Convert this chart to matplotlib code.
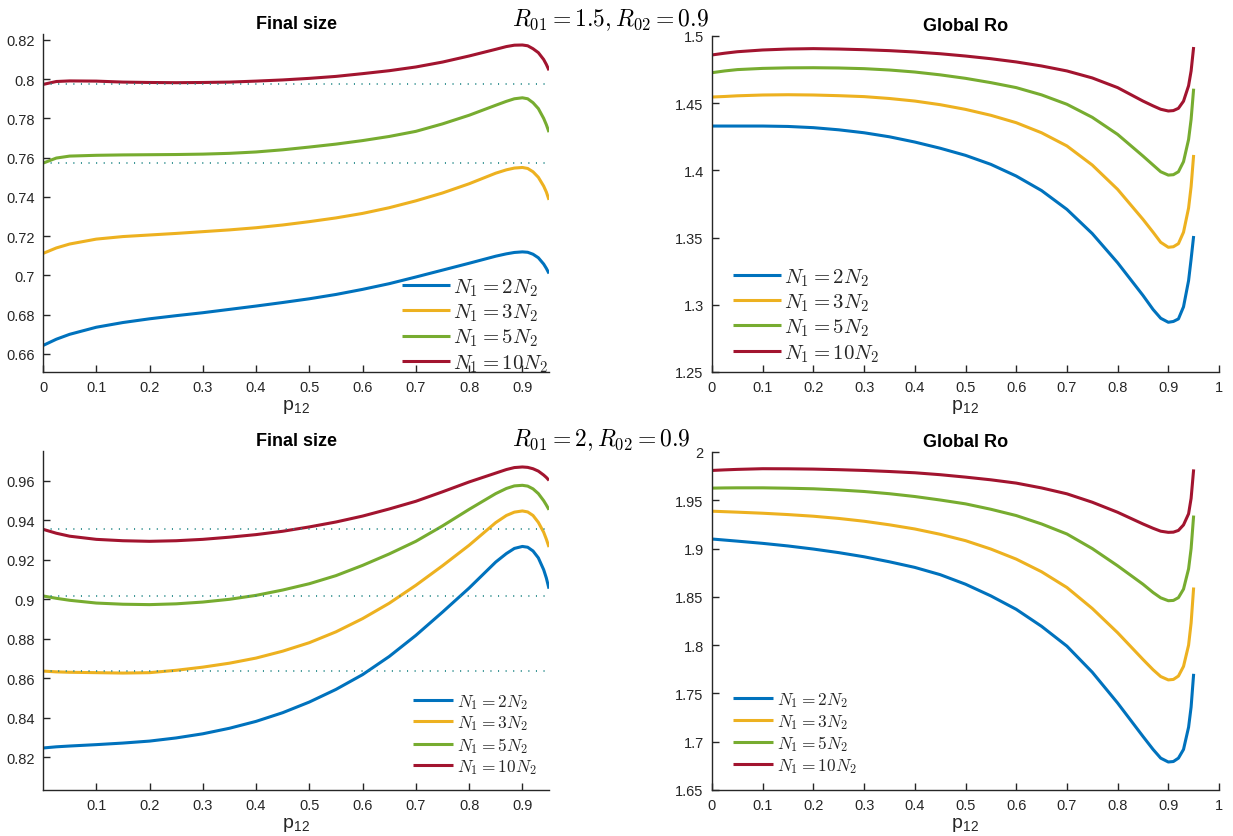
import numpy as np
import matplotlib
matplotlib.use("Agg")
import matplotlib.pyplot as plt

# p12 grid the curves were read at
p12 = [0, 0.025, 0.05, 0.1, 0.15, 0.2, 0.25, 0.3, 0.35, 0.4, 0.45, 0.5, 0.55,
       0.6, 0.65, 0.7, 0.75, 0.8, 0.85, 0.87, 0.885, 0.9, 0.91, 0.92, 0.93,
       0.94, 0.945, 0.95]

labels = [r'$N_1 = 2N_2$', r'$N_1 = 3N_2$', r'$N_1 = 5N_2$', r'$N_1 = 10N_2$']
colors = ['#0072BD', '#EDB120', '#77AC30', '#A2142F']

# R01 = 1.5, final size
fs1_n2 = [0.6643, 0.6675, 0.6700, 0.6736, 0.6760, 0.6779, 0.6795, 0.6810, 0.6827,
          0.6844, 0.6862, 0.6881, 0.6903, 0.6929, 0.6958, 0.6992, 0.7027, 0.7062,
          0.7098, 0.7110, 0.7117, 0.7120, 0.7118, 0.7108, 0.7090, 0.7058, 0.7036,
          0.7010]
fs1_n3 = [0.7112, 0.7140, 0.7160, 0.7185, 0.7198, 0.7206, 0.7214, 0.7223, 0.7232,
          0.7243, 0.7257, 0.7274, 0.7293, 0.7316, 0.7345, 0.7380, 0.7420, 0.7467,
          0.7521, 0.7538, 0.7547, 0.7550, 0.7545, 0.7528, 0.7500, 0.7455, 0.7425,
          0.7385]
fs1_n5 = [0.7572, 0.7598, 0.7608, 0.7612, 0.7614, 0.7615, 0.7616, 0.7618, 0.7622,
          0.7629, 0.7640, 0.7654, 0.7669, 0.7687, 0.7708, 0.7734, 0.7772, 0.7816,
          0.7867, 0.7887, 0.7900, 0.7905, 0.7900, 0.7880, 0.7850, 0.7800, 0.7768,
          0.7730]
fs1_n10 = [0.7973, 0.7988, 0.7991, 0.7990, 0.7985, 0.7983, 0.7982, 0.7983, 0.7985,
           0.7990, 0.7996, 0.8004, 0.8014, 0.8028, 0.8043, 0.8062, 0.8087, 0.8118,
           0.8152, 0.8166, 0.8173, 0.8174, 0.8170, 0.8155, 0.8135, 0.8100, 0.8075,
           0.8045]
fs1_ref = [0.7975, 0.7574]

# R01 = 1.5, global Ro
ro1_n2 = [1.4330, 1.4330, 1.4330, 1.4330, 1.4327, 1.4318, 1.4302, 1.4280, 1.4250,
          1.4211, 1.4165, 1.4112, 1.4045, 1.3958, 1.3850, 1.3710, 1.3530, 1.3313,
          1.3070, 1.2965, 1.2900, 1.2870, 1.2876, 1.2895, 1.2985, 1.3180, 1.3340,
          1.3512]
ro1_n3 = [1.4546, 1.4550, 1.4555, 1.4561, 1.4563, 1.4561, 1.4556, 1.4549, 1.4535,
          1.4516, 1.4489, 1.4454, 1.4410, 1.4355, 1.4280, 1.4182, 1.4040, 1.3859,
          1.3636, 1.3540, 1.3465, 1.3428, 1.3432, 1.3455, 1.3540, 1.3720, 1.3880,
          1.4115]
ro1_n5 = [1.4727, 1.4740, 1.4750, 1.4759, 1.4763, 1.4764, 1.4762, 1.4757, 1.4747,
          1.4732, 1.4711, 1.4685, 1.4653, 1.4616, 1.4562, 1.4492, 1.4395, 1.4268,
          1.4107, 1.4040, 1.3990, 1.3965, 1.3968, 1.3990, 1.4065, 1.4230, 1.4380,
          1.4608]
ro1_n10 = [1.4859, 1.4872, 1.4883, 1.4896, 1.4903, 1.4906, 1.4903, 1.4898, 1.4891,
           1.4881, 1.4868, 1.4851, 1.4831, 1.4807, 1.4777, 1.4740, 1.4688, 1.4616,
           1.4516, 1.4480, 1.4455, 1.4442, 1.4445, 1.4462, 1.4515, 1.4630, 1.4740,
           1.4918]

# R01 = 2, final size
fs2_n2 = [0.8246, 0.8252, 0.8256, 0.8263, 0.8271, 0.8281, 0.8297, 0.8318, 0.8346,
          0.8381, 0.8425, 0.8479, 0.8543, 0.8618, 0.8710, 0.8817, 0.8935, 0.9057,
          0.9189, 0.9232, 0.9258, 0.9268, 0.9264, 0.9245, 0.9210, 0.9150, 0.9108,
          0.9054]
fs2_n3 = [0.8636, 0.8632, 0.8630, 0.8628, 0.8626, 0.8628, 0.8640, 0.8656, 0.8676,
          0.8702, 0.8737, 0.8780, 0.8835, 0.8902, 0.8980, 0.9071, 0.9170, 0.9274,
          0.9389, 0.9425, 0.9442, 0.9448, 0.9443, 0.9425, 0.9390, 0.9340, 0.9305,
          0.9265]
fs2_n5 = [0.9017, 0.9005, 0.8995, 0.8981, 0.8975, 0.8973, 0.8977, 0.8986, 0.9000,
          0.9020, 0.9047, 0.9079, 0.9120, 0.9172, 0.9230, 0.9294, 0.9372, 0.9456,
          0.9536, 0.9562, 0.9575, 0.9578, 0.9574, 0.9560, 0.9536, 0.9500, 0.9478,
          0.9454]
fs2_n10 = [0.9355, 0.9335, 0.9320, 0.9304, 0.9297, 0.9294, 0.9297, 0.9304, 0.9315,
           0.9328, 0.9345, 0.9367, 0.9392, 0.9422, 0.9458, 0.9497, 0.9545, 0.9595,
           0.9640, 0.9658, 0.9668, 0.9671, 0.9669, 0.9662, 0.9650, 0.9630, 0.9618,
           0.9603]
fs2_ref = [0.9355, 0.9017, 0.8636]

# R01 = 2, global Ro
ro2_n2 = [1.9099, 1.9088, 1.9077, 1.9054, 1.9027, 1.8995, 1.8958, 1.8915, 1.8863,
          1.8805, 1.8730, 1.8631, 1.8510, 1.8371, 1.8195, 1.7990, 1.7720, 1.7401,
          1.7055, 1.6920, 1.6830, 1.6790, 1.6795, 1.6830, 1.6920, 1.7150, 1.7360,
          1.7703]
ro2_n3 = [1.9387, 1.9382, 1.9377, 1.9366, 1.9352, 1.9335, 1.9312, 1.9283, 1.9246,
          1.9203, 1.9148, 1.9082, 1.8995, 1.8891, 1.8760, 1.8597, 1.8380, 1.8129,
          1.7852, 1.7745, 1.7675, 1.7640, 1.7645, 1.7680, 1.7780, 1.8000, 1.8230,
          1.8597]
ro2_n5 = [1.9626, 1.9628, 1.9629, 1.9629, 1.9625, 1.9619, 1.9607, 1.9591, 1.9568,
          1.9539, 1.9503, 1.9463, 1.9407, 1.9342, 1.9255, 1.9151, 1.9000, 1.8822,
          1.8631, 1.8545, 1.8490, 1.8460, 1.8463, 1.8492, 1.8580, 1.8790, 1.9000,
          1.9342]
ro2_n10 = [1.9809, 1.9815, 1.9820, 1.9827, 1.9826, 1.9823, 1.9817, 1.9809, 1.9798,
           1.9785, 1.9765, 1.9740, 1.9712, 1.9678, 1.9628, 1.9567, 1.9480, 1.9376,
           1.9255, 1.9210, 1.9180, 1.9168, 1.9170, 1.9188, 1.9245, 1.9360, 1.9520,
           1.9820]

axisColor = '#262626'
refColor = '#2b8c8c'

plt.rcParams['font.family'] = ['Liberation Sans', 'DejaVu Sans']
plt.rcParams['mathtext.fontset'] = 'cm'

fig = plt.figure(figsize=(12.33, 8.37), dpi=100, facecolor='white')
W, H = 1233.0, 837.0

def MakeAxes(l, r, t, b):
  return fig.add_axes([l / W, 1 - b / H, (r - l) / W, (b - t) / H])

def StyleAxes(ax, title):
  ax.spines['top'].set_visible(False)
  ax.spines['right'].set_visible(False)
  for s in ['left', 'bottom']:
    ax.spines[s].set_color(axisColor)
    ax.spines[s].set_linewidth(1.0)
  ax.tick_params(axis='both', direction='in', length=5, width=1.0,
                 color=axisColor, labelcolor=axisColor, labelsize=10.5, pad=6)
  ax.set_title(title, fontsize=13, fontweight='bold', color='black', pad=4)
  ax.set_xlabel(r'p$_{\mathregular{12}}$', fontsize=14, color=axisColor,
                labelpad=2)

def TickFmt(v):
  s = ('%.2f' % v).rstrip('0').rstrip('.')
  return s

def PlotPanel(ax, series, ref, legAnchor, legSize, legSpacing, textPad=0.15):
  for ys, c, lab in zip(series, colors, labels):
    ax.plot(p12, ys, color=c, lw=2.2, label=lab, solid_capstyle='butt',
            solid_joinstyle='round')
  for r in ref:
    ax.plot([p12[0], p12[-1]], [r, r], color=refColor, lw=1.3,
            linestyle=(0, (0.6, 3.6)))
  lgd = ax.legend(loc='lower left', bbox_to_anchor=legAnchor, frameon=False,
                  fontsize=legSize, handlelength=2.3, handletextpad=textPad,
                  labelspacing=legSpacing, borderaxespad=0, borderpad=0)
  for t in lgd.get_texts():
    t.set_color(axisColor)
  return lgd

# Top left: final size, R01 = 1.5
ax = MakeAxes(43, 549, 35, 373)
PlotPanel(ax, [fs1_n2, fs1_n3, fs1_n5, fs1_n10], fs1_ref,
          (359 / 506.0, -0.005), 15, 0.18)
ax.set_xlim(0, 0.95)
ax.set_ylim(0.6508, 0.823)
yt = np.arange(0.66, 0.8201, 0.02)
ax.set_yticks(yt)
ax.set_yticklabels([TickFmt(v) for v in yt])
xt = np.arange(0, 0.91, 0.1)
ax.set_xticks(xt)
ax.set_xticklabels([TickFmt(v) for v in xt])
StyleAxes(ax, 'Final size')

# Top right: global Ro, R01 = 1.5
ax = MakeAxes(712, 1219, 37, 373)
PlotPanel(ax, [ro1_n2, ro1_n3, ro1_n5, ro1_n10], [],
          (21 / 507.0, 0.025), 15, 0.18)
ax.set_xlim(0, 1)
ax.set_ylim(1.25, 1.5)
yt = np.arange(1.25, 1.501, 0.05)
ax.set_yticks(yt)
ax.set_yticklabels([TickFmt(v) for v in yt])
xt = np.arange(0, 1.01, 0.1)
ax.set_xticks(xt)
ax.set_xticklabels([TickFmt(v) for v in xt])
StyleAxes(ax, 'Global Ro')

# Bottom left: final size, R01 = 2
ax = MakeAxes(43, 549, 452, 791)
PlotPanel(ax, [fs2_n2, fs2_n3, fs2_n5, fs2_n10], fs2_ref,
          (370 / 506.0, 0.04), 12.5, 0.15, textPad=0.25)
ax.set_xlim(0, 0.95)
ax.set_ylim(0.8033, 0.9752)
yt = np.arange(0.82, 0.9601, 0.02)
ax.set_yticks(yt)
ax.set_yticklabels([TickFmt(v) for v in yt])
xt = np.arange(0.1, 0.91, 0.1)
ax.set_xticks(xt)
ax.set_xticklabels([TickFmt(v) for v in xt])
StyleAxes(ax, 'Final size')

# Bottom right: global Ro, R01 = 2
ax = MakeAxes(712, 1219, 453, 791)
PlotPanel(ax, [ro2_n2, ro2_n3, ro2_n5, ro2_n10], [],
          (21 / 507.0, 0.045), 12.5, 0.15, textPad=0.25)
ax.set_xlim(0, 1)
ax.set_ylim(1.65, 2.0)
yt = np.arange(1.65, 2.001, 0.05)
ax.set_yticks(yt)
ax.set_yticklabels([TickFmt(v) for v in yt])
xt = np.arange(0, 1.01, 0.1)
ax.set_xticks(xt)
ax.set_xticklabels([TickFmt(v) for v in xt])
StyleAxes(ax, 'Global Ro')

# Parameter annotations between the panels
fig.text(512 / W, 1 - 20 / H, r'$R_{01} = 1.5, R_{02} = 0.9$', fontsize=17,
         ha='left', va='center', color='black')
fig.text(512 / W, 1 - 440 / H, r'$R_{01} = 2, R_{02} = 0.9$', fontsize=17,
         ha='left', va='center', color='black')

fig.savefig('out.png', dpi=100, facecolor=fig.get_facecolor())
plt.close()
